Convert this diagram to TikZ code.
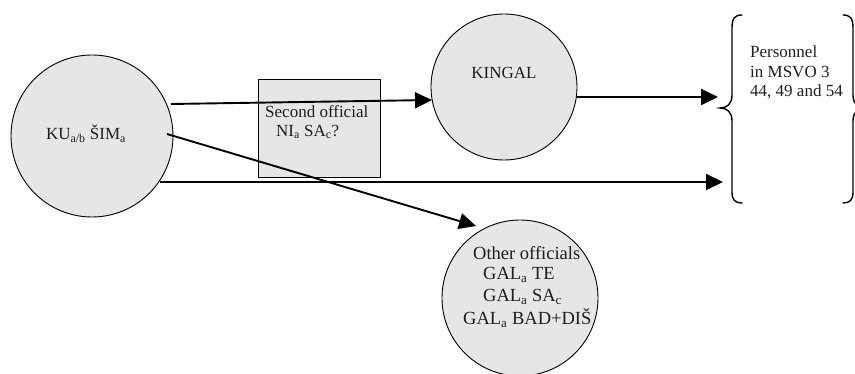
\documentclass[tikz,border=0pt]{standalone}
\usepackage{fontspec}
\setmainfont{Liberation Serif}
\usetikzlibrary{arrows.meta}
\definecolor{shade}{RGB}{229,230,232}
\definecolor{ink}{RGB}{30,30,30}
\tikzset{
  blob/.style={circle, draw=black, line width=0.9pt, fill=shade, inner sep=0pt},
  lbl/.style={inner sep=0pt, text=ink, font=\fontsize{17}{20.5}\selectfont},
  biglbl/.style={inner sep=0pt, text=ink, font=\fontsize{18.5}{22}\selectfont},
  conn/.style={line width=1.9pt, -{Triangle[length=17pt,width=16pt]}},
  bracestyle/.style={line width=1.4pt, line cap=round}
}
\begin{document}
\begin{tikzpicture}[x=1pt,y=-1pt]
\useasboundingbox (0,0) rectangle (855,374);
% shapes
\node[blob, minimum size=162pt] (ku) at (92,136) {};
\node[draw=black, line width=0.9pt, fill=shade, minimum width=122pt, minimum height=98pt, inner sep=0pt] (box) at (319,128) {};
\node[blob, minimum size=146pt] (kingal) at (504,87) {};
\node[blob, minimum size=156pt] (other) at (520,298) {};
% texts
\node[lbl] (kutxt) at (86,134) {KU\textsubscript{a/b} ŠIM\textsubscript{a}};
\node[lbl, anchor=west] (sec1) at (265,112) {Second official};
\node[lbl, anchor=west] (sec2) at (276,132) {NI\textsubscript{a} SA\textsubscript{c}?};
\node[lbl] (kingaltxt) at (504,73) {KINGAL};
\node[biglbl, anchor=west] (o1) at (473,253) {Other officials};
\node[biglbl, anchor=west] (o2) at (483,275) {GAL\textsubscript{a} TE};
\node[biglbl, anchor=west] (o3) at (483,297) {GAL\textsubscript{a} SA\textsubscript{c}};
\node[biglbl, anchor=west] (o4) at (463,318) {GAL\textsubscript{a} BAD+DIŠ};
\node[lbl, anchor=west] (p1) at (750,52) {Personnel};
\node[lbl, anchor=west] (p2) at (750,72) {in MSVO 3};
\node[lbl, anchor=west] (p3) at (750,92) {44, 49 and 54};
% braces
\draw[bracestyle] (742,15) .. controls (735,15) and (732,18) .. (732,28) -- (732,95)
  .. controls (732,104) and (727,108) .. (720,108)
  .. controls (727,108) and (732,112) .. (732,121) -- (732,192)
  .. controls (732,200) and (735,203) .. (742,203);
\draw[bracestyle] (843,15) .. controls (850,15) and (853,18) .. (853,28) -- (853,95)
  .. controls (853,104) and (858,108) .. (865,108)
  .. controls (858,108) and (853,112) .. (853,121) -- (853,192)
  .. controls (853,200) and (850,203) .. (843,203);
% connector end points
\coordinate (a1s) at (171,104);
\coordinate (a1e) at (432,100);
\coordinate (a2s) at (577,97);
\coordinate (a2e) at (718,97);
\coordinate (a3s) at (160,182);
\coordinate (a3e) at (723,182);
\coordinate (a4s) at (167,134);
\coordinate (a4e) at (476,226);
\draw[conn] (a1s) -- (a1e);
\draw[conn] (a2s) -- (a2e);
\draw[conn] (a3s) -- (a3e);
\draw[conn] (a4s) -- (a4e);
\end{tikzpicture}
\end{document}
